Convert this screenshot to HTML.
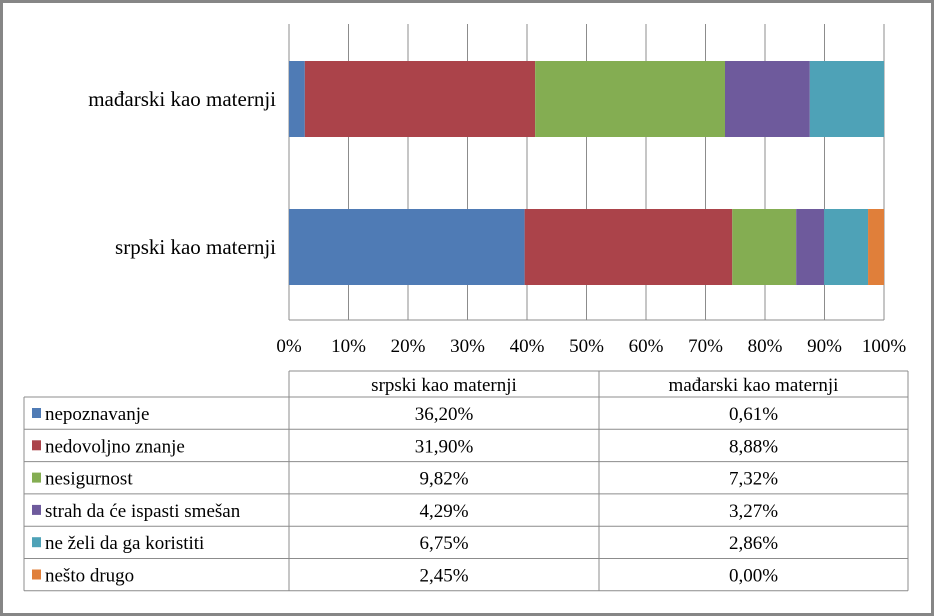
<!DOCTYPE html>
<html><head><meta charset="utf-8"><style>
body{margin:0;background:#fff;}
#frame{position:absolute;left:0;top:0;width:928px;height:610px;border:3px solid #868686;background:#fff;}
svg{position:absolute;left:0;top:0;}
text{font-family:"Liberation Serif",serif;fill:#000;}
</style></head><body>
<div id="frame"></div>
<svg id="chart" width="934" height="616"></svg>
<script>
const categories=["mađarski kao maternji","srpski kao maternji"];
const seriesNames=["nepoznavanje","nedovoljno znanje","nesigurnost","strah da će ispasti smešan","ne želi da ga koristiti","nešto drugo"];
const srpski=[36.20,31.90,9.82,4.29,6.75,2.45];
const madjarski=[0.61,8.88,7.32,3.27,2.86,0.00];
const srpskiLabels=["36,20%","31,90%","9,82%","4,29%","6,75%","2,45%"];
const madjarskiLabels=["0,61%","8,88%","7,32%","3,27%","2,86%","0,00%"];
const ticks=[0,10,20,30,40,50,60,70,80,90,100];
const colors=["#4f7bb5","#ab434a","#84ad52","#6e5a9c","#4ea2b7","#e07f3a"];

const svg=document.getElementById('chart');
const NS='http://www.w3.org/2000/svg';
function mk(t,a,p){const e=document.createElementNS(NS,t);for(const k in a)e.setAttribute(k,a[k]);(p||svg).appendChild(e);return e;}
const X0=289,X1=884,YT=24,YB=320;
const xs=v=>X0+(X1-X0)*v/100;
const bandY=[61,209],bandH=76;

ticks.forEach((t,i)=>{
  const l=mk('line',{x1:xs(t),x2:xs(t),y1:YT,y2:YB,stroke:'#8c8c8c','stroke-width':1});
  
  
  const tx=mk('text',{x:xs(t),y:352,'text-anchor':'middle','font-size':19});
  tx.textContent=t+'%';
  
  
});
const ax=mk('line',{x1:X0,x2:X1,y1:YB,y2:YB,stroke:'#8c8c8c','stroke-width':1});



const dataSets=[madjarski,srpski];
dataSets.forEach((vals,ci)=>{
  const total=vals.reduce((a,b)=>a+b,0);
  let acc=0;
  vals.forEach((v,si)=>{
    const p0=acc/total*100;acc+=v;const p1=acc/total*100;
    if(v<=0)return;
    const r=mk('rect',{x:xs(p0),y:bandY[ci],width:xs(p1)-xs(p0),height:bandH,fill:colors[si]});
    
    
  });
  const lab=mk('text',{x:276,y:bandY[ci]+bandH/2+7,'text-anchor':'end','font-size':21});
  lab.textContent=categories[ci];
  
  
});

// data table
const TL=24,TC1=289,TC2=599,TR=908,TT=371,TH=397,rowH=32.3;
const g=mk('g',{});


const st={stroke:'#8c8c8c','stroke-width':1};
mk('line',Object.assign({x1:TC1,x2:TR,y1:TT,y2:TT},st),g);
mk('line',Object.assign({x1:TR,x2:TR,y1:TT,y2:TH+rowH*6},st),g);
mk('line',Object.assign({x1:TC1,x2:TC1,y1:TT,y2:TH+rowH*6},st),g);
mk('line',Object.assign({x1:TC2,x2:TC2,y1:TT,y2:TH+rowH*6},st),g);
mk('line',Object.assign({x1:TL,x2:TL,y1:TH,y2:TH+rowH*6},st),g);
for(let i=0;i<=6;i++)mk('line',Object.assign({x1:TL,x2:TR,y1:TH+rowH*i,y2:TH+rowH*i},st),g);
const h1=mk('text',{x:(TC1+TC2)/2,y:TT+20,'text-anchor':'middle','font-size':19},g);h1.textContent=categories[1];


const h2=mk('text',{x:(TC2+TR)/2,y:TT+20,'text-anchor':'middle','font-size':19},g);h2.textContent=categories[0];


seriesNames.forEach((n,i)=>{
  const y=TH+rowH*i;
  const sw=mk('rect',{x:32,y:y+11,width:9,height:10,fill:colors[i]},g);
  
  
  const t=mk('text',{x:45,y:y+23,'font-size':19},g);t.textContent=n;
  
  
  const a=mk('text',{x:(TC1+TC2)/2,y:y+23,'text-anchor':'middle','font-size':19},g);a.textContent=srpskiLabels[i];
  
  
  const b=mk('text',{x:(TC2+TR)/2,y:y+23,'text-anchor':'middle','font-size':19},g);b.textContent=madjarskiLabels[i];
  
  
});
</script>
</body></html>
